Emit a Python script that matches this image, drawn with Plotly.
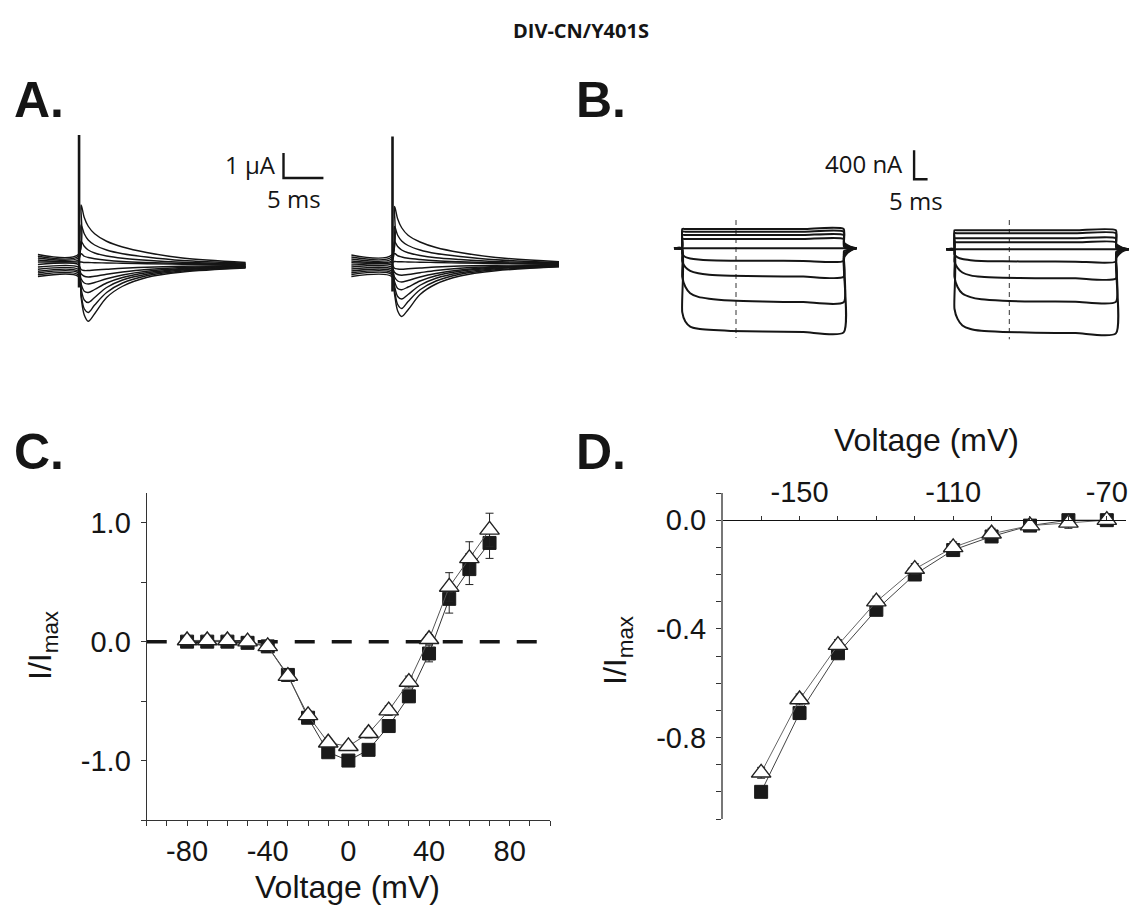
import plotly.graph_objects as go

W, H = 1139, 905

# ---------------- DATA ----------------
# Panel A: two-electrode voltage clamp current traces (time in ms, current in µA)
tA = [0.0, 5.05, 5.4, 5.8, 6.3, 7.1, 8.6, 10.6, 13.6, 18.1, 26.0]
A_left_I = [
    [0.42, 0.42, 2.40, 1.90, 1.55, 1.25, 0.95, 0.72, 0.50, 0.28, 0.10],
    [0.35, 0.35, 1.60, 1.25, 1.00, 0.80, 0.60, 0.45, 0.32, 0.18, 0.07],
    [0.28, 0.28, 0.95, 0.75, 0.60, 0.48, 0.36, 0.27, 0.19, 0.11, 0.04],
    [0.20, 0.20, 0.45, 0.35, 0.30, 0.25, 0.19, 0.14, 0.10, 0.06, 0.02],
    [0.12, 0.12, 0.12, 0.10, 0.10, 0.09, 0.08, 0.07, 0.05, 0.03, 0.01],
    [0.02, 0.02, -0.18, -0.22, -0.22, -0.20, -0.17, -0.13, -0.09, -0.05, -0.02],
    [-0.08, -0.08, -0.35, -0.45, -0.48, -0.45, -0.37, -0.28, -0.18, -0.10, -0.04],
    [-0.17, -0.17, -0.55, -0.72, -0.76, -0.70, -0.55, -0.40, -0.25, -0.14, -0.06],
    [-0.25, -0.25, -0.75, -1.05, -1.10, -0.98, -0.72, -0.50, -0.31, -0.17, -0.07],
    [-0.32, -0.32, -0.95, -1.40, -1.50, -1.30, -0.90, -0.60, -0.37, -0.20, -0.09],
    [-0.39, -0.39, -1.15, -1.75, -1.90, -1.60, -1.10, -0.72, -0.43, -0.24, -0.10],
    [-0.46, -0.46, -1.30, -2.00, -2.25, -1.95, -1.30, -0.85, -0.50, -0.28, -0.12],
]
A_right_I = [
    [0.36, 0.36, 2.30, 1.80, 1.45, 1.15, 0.88, 0.66, 0.46, 0.26, 0.09],
    [0.28, 0.28, 1.50, 1.15, 0.92, 0.74, 0.56, 0.42, 0.30, 0.17, 0.06],
    [0.20, 0.20, 0.90, 0.70, 0.56, 0.45, 0.34, 0.25, 0.18, 0.10, 0.04],
    [0.12, 0.12, 0.42, 0.33, 0.28, 0.23, 0.18, 0.13, 0.09, 0.05, 0.02],
    [0.05, 0.05, 0.10, 0.09, 0.09, 0.08, 0.07, 0.06, 0.04, 0.03, 0.01],
    [-0.04, -0.04, -0.17, -0.20, -0.21, -0.19, -0.16, -0.12, -0.08, -0.05, -0.02],
    [-0.12, -0.12, -0.33, -0.42, -0.45, -0.42, -0.35, -0.26, -0.17, -0.10, -0.04],
    [-0.20, -0.20, -0.52, -0.68, -0.72, -0.66, -0.52, -0.38, -0.24, -0.13, -0.05],
    [-0.28, -0.28, -0.70, -0.98, -1.03, -0.92, -0.68, -0.47, -0.29, -0.16, -0.07],
    [-0.35, -0.35, -0.88, -1.30, -1.40, -1.22, -0.85, -0.57, -0.35, -0.19, -0.08],
    [-0.42, -0.42, -1.05, -1.62, -1.78, -1.50, -1.03, -0.68, -0.41, -0.23, -0.10],
    [-0.50, -0.50, -1.20, -1.88, -2.10, -1.83, -1.22, -0.80, -0.48, -0.27, -0.11],
]
A_spike_t = [5.15, 5.15]
A_left_spike_I = [-0.9, 5.2]
A_right_spike_I = [-1.1, 5.1]
A_bar_t = [0, 0, 5]        # 5 ms
A_bar_I = [1, 0, 0]        # 1 µA

# Panel B: hyperpolarisation-activated currents (time in ms, current in nA)
tB = [-3.0, -0.05, 0.05, 1.2, 3.0, 6.0, 10.0, 18.0, 30.0, 45.0, 59.95, 60.05, 61.5, 63.0, 64.7]
B_left_I = [
    [0, 0, 266, 266, 266, 266, 266, 266, 266, 266, 266, 80, 40, 15, 0],
    [0, 0, 229, 229, 229, 229, 229, 229, 229, 229, 229, 60, 30, 10, 0],
    [0, 0, 183, 183, 183, 183, 183, 183, 183, 183, 183, 40, 20, 8, 0],
    [0, 0, 128, 128, 128, 128, 128, 128, 128, 128, 128, 20, 10, 4, 0],
    [0, 0, 0, 0, 0, 0, 0, 0, 0, 0, 0, 0, 0, 0, 0],
    [0, 0, -74, -120, -140, -155, -165, -170, -172, -174, -175, -40, -20, -8, 0],
    [0, 0, -175, -260, -310, -345, -365, -378, -385, -390, -392, -70, -35, -12, 0],
    [0, 0, -392, -530, -620, -670, -695, -720, -735, -742, -745, -100, -50, -16, 0],
    [0, 0, -880, -1010, -1080, -1110, -1125, -1140, -1148, -1155, -1160, -130, -60, -20, 0],
]
B_right_I = [
    [0, 0, 262, 262, 262, 262, 262, 262, 262, 262, 262, 75, 38, 14, 0],
    [0, 0, 221, 221, 221, 221, 221, 221, 221, 221, 221, 55, 28, 10, 0],
    [0, 0, 152, 152, 152, 152, 152, 152, 152, 152, 152, 35, 18, 7, 0],
    [0, 0, 97, 97, 97, 97, 97, 97, 97, 97, 97, 15, 8, 3, 0],
    [0, 0, 0, 0, 0, 0, 0, 0, 0, 0, 0, 0, 0, 0, 0],
    [0, 0, -70, -110, -135, -150, -160, -165, -168, -170, -170, -35, -15, -5, 0],
    [0, 0, -170, -255, -320, -360, -380, -392, -398, -400, -402, -60, -25, -8, 0],
    [0, 0, -380, -520, -610, -660, -690, -710, -720, -722, -725, -90, -40, -12, 0],
    [0, 0, -820, -960, -1050, -1100, -1125, -1140, -1150, -1155, -1160, -120, -55, -18, 0],
]
B_left_marker_t = [20.0, 20.0]
B_left_marker_I = [390, -1237]
B_right_marker_t = [20.4, 20.4]
B_right_marker_I = [404, -1241]
B_bar_t = [0, 0, 5]        # 5 ms
B_bar_I = [400, 0, 0]      # 400 nA

# Panel C: normalised I-V relation
V_C = [-80, -70, -60, -50, -40, -30, -20, -10, 0, 10, 20, 30, 40, 50, 60, 70]
sq_C = [0.00, 0.00, 0.00, -0.01, -0.04, -0.28, -0.64, -0.93, -1.00, -0.91, -0.71, -0.46, -0.10, 0.36, 0.61, 0.83]
sq_C_err = [0.04, 0.03, 0.03, 0.03, 0.05, 0.05, 0.04, 0.03, 0.03, 0.04, 0.04, 0.05, 0.07, 0.12, 0.13, 0.13]
tri_C = [0.01, 0.01, 0.01, 0.00, -0.04, -0.29, -0.62, -0.85, -0.88, -0.77, -0.58, -0.34, 0.02, 0.46, 0.70, 0.94]
tri_C_err = [0.03, 0.03, 0.03, 0.03, 0.04, 0.04, 0.03, 0.03, 0.03, 0.04, 0.04, 0.05, 0.04, 0.12, 0.14, 0.14]
zero_C_x = [-100, 100]
zero_C_y = [0, 0]

# Panel D: normalised hyperpolarisation I-V relation
V_D = [-160, -150, -140, -130, -120, -110, -100, -90, -80, -70]
sq_D = [-1.00, -0.71, -0.49, -0.33, -0.20, -0.11, -0.06, -0.02, 0.00, 0.00]
sq_D_err = [0.02, 0.02, 0.02, 0.02, 0.02, 0.02, 0.02, 0.02, 0.02, 0.02]
tri_D = [-0.93, -0.66, -0.46, -0.30, -0.18, -0.10, -0.05, -0.02, -0.01, 0.00]
tri_D_err = [0.02, 0.02, 0.02, 0.02, 0.02, 0.02, 0.02, 0.02, 0.02, 0.02]

# tick labels
C_xticks = list(range(-100, 101, 10))
C_xlabels = {-80: "-80", -40: "-40", 0: "0", 40: "40", 80: "80"}
C_yticks = [-1.5, -1.0, -0.5, 0.0, 0.5, 1.0]
C_ylabels = {-1.0: "-1.0", 0.0: "0.0", 1.0: "1.0"}
D_xticks = list(range(-160, -69, 10))
D_xlabels = {-150: "-150", -110: "-110", -70: "-70"}
D_yticks = [round(-1.1 + 0.1 * i, 1) for i in range(13)]
D_ylabels = {0.0: "0.0", -0.4: "-0.4", -0.8: "-0.8"}

# ---------------- LAYOUT HELPERS ----------------
def dom_x(a, b):
    return [a / W, b / W]

def dom_y(top, bottom):
    return [1 - bottom / H, 1 - top / H]

def py(y):
    return 1 - y / H

def px(x):
    return x / W

def lin_range(p0, p1, origin_px, scale, flip=False):
    if not flip:
        return [(p0 - origin_px) / scale, (p1 - origin_px) / scale]
    return [(origin_px - p1) / scale, (origin_px - p0) / scale]

fig = go.Figure()
INK = "#151515"
AX_FONT = "Liberation Sans"
LBL_FONT = "Open Sans"

hidden = dict(visible=False, showgrid=False, zeroline=False, fixedrange=True)
layout_axes = {}

def add_axes(n, xdom, ydom, xr, yr):
    layout_axes[f"xaxis{n}"] = dict(domain=xdom, range=xr, anchor=f"y{n}", **hidden)
    layout_axes[f"yaxis{n}"] = dict(domain=ydom, range=yr, anchor=f"x{n}", **hidden)

# Panel A scales: 8 px/ms, 25 px/µA
A_px_ms, A_px_uA = 8.0, 25.0
add_axes(1, dom_x(28, 258), dom_y(115, 350),
         lin_range(28, 258, 38, A_px_ms), lin_range(115, 350, 265, A_px_uA, flip=True))
add_axes(2, dom_x(342, 572), dom_y(115, 350),
         lin_range(342, 572, 352, A_px_ms), lin_range(115, 350, 264, A_px_uA, flip=True))
add_axes(3, dom_x(270, 345), dom_y(140, 195),
         lin_range(270, 345, 284, A_px_ms), lin_range(140, 195, 178, A_px_uA, flip=True))
# Panel B scales: 2.7 px/ms, 0.0725 px/nA
B_px_ms, B_px_nA = 2.7, 0.0725
add_axes(4, dom_x(665, 875), dom_y(205, 350),
         lin_range(665, 875, 683.3, B_px_ms), lin_range(205, 350, 248.3, B_px_nA, flip=True))
add_axes(5, dom_x(938, 1139), dom_y(205, 350),
         lin_range(938, 1139, 956, B_px_ms), lin_range(205, 350, 249.3, B_px_nA, flip=True))
add_axes(6, dom_x(905, 945), dom_y(140, 195),
         lin_range(905, 945, 915.7, B_px_ms), lin_range(140, 195, 179.3, B_px_nA, flip=True))

# Panel A traces
for n, (sets, spike) in enumerate([(A_left_I, A_left_spike_I), (A_right_I, A_right_spike_I)], start=1):
    for tr in sets:
        fig.add_trace(go.Scatter(x=tA, y=tr, mode="lines", xaxis=f"x{n}", yaxis=f"y{n}",
                                 line=dict(color=INK, width=1.4, shape="spline", smoothing=0.9),
                                 hoverinfo="skip", showlegend=False))
    fig.add_trace(go.Scatter(x=A_spike_t, y=spike, mode="lines", xaxis=f"x{n}", yaxis=f"y{n}",
                             line=dict(color=INK, width=2.6), hoverinfo="skip", showlegend=False))
fig.add_trace(go.Scatter(x=A_bar_t, y=A_bar_I, mode="lines", xaxis="x3", yaxis="y3",
                         line=dict(color=INK, width=2.4), hoverinfo="skip", showlegend=False))

# Panel B traces
for n, (sets, mt, mi) in [(4, (B_left_I, B_left_marker_t, B_left_marker_I)),
                          (5, (B_right_I, B_right_marker_t, B_right_marker_I))]:
    fig.add_trace(go.Scatter(x=mt, y=mi, mode="lines", xaxis=f"x{n}", yaxis=f"y{n}",
                             line=dict(color="#333", width=1, dash="5px,4px"),
                             hoverinfo="skip", showlegend=False))
    for tr in sets:
        fig.add_trace(go.Scatter(x=tB, y=tr, mode="lines", xaxis=f"x{n}", yaxis=f"y{n}",
                                 line=dict(color=INK, width=2.0, shape="spline", smoothing=0.6),
                                 hoverinfo="skip", showlegend=False))
fig.add_trace(go.Scatter(x=B_bar_t, y=B_bar_I, mode="lines", xaxis="x6", yaxis="y6",
                         line=dict(color=INK, width=2.4), hoverinfo="skip", showlegend=False))

# Panel C
TICK_SIZE = 29
axis_common = dict(showgrid=False, zeroline=False, showline=True, ticks="outside", ticklen=5,
                   tickwidth=1.2, tickcolor="#333", linecolor="#333", linewidth=1.3,
                   tickfont=dict(family=AX_FONT, size=TICK_SIZE, color=INK), fixedrange=True)
layout_axes["xaxis7"] = dict(domain=dom_x(147, 551), range=[-100, 100], anchor="y7",
                             tickmode="array", tickvals=C_xticks,
                             ticktext=[C_xlabels.get(v, "") for v in C_xticks],
                             ticklabelstandoff=0, **axis_common)
layout_axes["yaxis7"] = dict(domain=dom_y(493, 820), range=[-1.5, 1.25], anchor="x7",
                             tickmode="array", tickvals=C_yticks,
                             ticktext=[C_ylabels.get(v, "") for v in C_yticks],
                             ticklabelstandoff=4, **axis_common)

fig.add_trace(go.Scatter(x=zero_C_x, y=zero_C_y, mode="lines", xaxis="x7", yaxis="y7",
                         line=dict(color=INK, width=3.5, dash="20px,17px"),
                         hoverinfo="skip", showlegend=False))
fig.add_trace(go.Scatter(x=V_C, y=sq_C, mode="lines+markers", xaxis="x7", yaxis="y7",
                         line=dict(color="#333", width=1),
                         marker=dict(symbol="square", size=13, color="#1a1a1a",
                                     line=dict(color="#1a1a1a", width=1)),
                         error_y=dict(type="data", array=sq_C_err, color="#222", thickness=1, width=4),
                         showlegend=False))
fig.add_trace(go.Scatter(x=V_C, y=tri_C, mode="lines+markers", xaxis="x7", yaxis="y7",
                         line=dict(color="#555", width=1),
                         marker=dict(symbol="triangle-up", size=17, color="white",
                                     line=dict(color="#222", width=1.4)),
                         error_y=dict(type="data", array=tri_C_err, color="#222", thickness=1, width=4),
                         showlegend=False))

# Panel D
layout_axes["xaxis8"] = dict(domain=dom_x(724, 1128), range=[-170, -65], anchor="free",
                             position=py(520.2), side="top",
                             tickmode="array", tickvals=D_xticks,
                             ticktext=[D_xlabels.get(v, "") for v in D_xticks],
                             ticklabelstandoff=2,
                             **{**axis_common, "linecolor": "#111", "ticklen": 4})
layout_axes["yaxis8"] = dict(domain=dom_y(493, 819), range=[-1.1, 0.1], anchor="x8",
                             tickmode="array", tickvals=D_yticks,
                             ticktext=[D_ylabels.get(v, "") for v in D_yticks],
                             ticklabelstandoff=4,
                             **{**axis_common, "linecolor": "#777", "linewidth": 1.6})

fig.add_trace(go.Scatter(x=V_D, y=sq_D, mode="lines+markers", xaxis="x8", yaxis="y8",
                         line=dict(color="#444", width=1),
                         marker=dict(symbol="square", size=13, color="#1a1a1a",
                                     line=dict(color="#1a1a1a", width=1)),
                         error_y=dict(type="data", array=sq_D_err, color="#222", thickness=1, width=4),
                         showlegend=False))
fig.add_trace(go.Scatter(x=V_D, y=tri_D, mode="lines+markers", xaxis="x8", yaxis="y8",
                         line=dict(color="#666", width=1),
                         marker=dict(symbol="triangle-up", size=17, color="white",
                                     line=dict(color="#222", width=1.4)),
                         error_y=dict(type="data", array=tri_D_err, color="#222", thickness=1, width=4),
                         showlegend=False))

# ---------------- TEXT ----------------
ann = []
def text(x, y, s, size, family=AX_FONT, xanchor="center", yanchor="middle", angle=0, bold=False):
    ann.append(dict(x=px(x), y=py(y), xref="paper", yref="paper", text=(f"<b>{s}</b>" if bold else s),
                    showarrow=False, xanchor=xanchor, yanchor=yanchor, textangle=angle,
                    font=dict(family=family, size=size, color=INK)))

text(582, 30, "DIV-CN/Y401S", 20, family=LBL_FONT, bold=True)
text(12, 100, "A.", 50, family=AX_FONT, xanchor="left", bold=True)
text(575, 100, "B.", 50, family=AX_FONT, xanchor="left", bold=True)
text(12, 452, "C.", 50, family=AX_FONT, xanchor="left", bold=True)
text(575, 452, "D.", 50, family=AX_FONT, xanchor="left", bold=True)

text(278, 165, "1 µA", 24, family=LBL_FONT, xanchor="right")
text(265, 199, "5 ms", 24, family=LBL_FONT, xanchor="left")
text(907, 163, "400 nA", 24, family=LBL_FONT, xanchor="right")
text(889, 200, "5 ms", 24, family=LBL_FONT, xanchor="left")

text(348, 887, "Voltage (mV)", 32)
text(928, 440, "Voltage (mV)", 32)
text(42, 645, "I/I<sub>max</sub>", 32, angle=-90)
text(618, 650, "I/I<sub>max</sub>", 32, angle=-90)

fig.update_layout(width=W, height=H, margin=dict(l=0, r=0, t=0, b=0),
                  paper_bgcolor="white", plot_bgcolor="rgba(0,0,0,0)",
                  annotations=ann, showlegend=False, **layout_axes)

fig.write_html("out.html")
